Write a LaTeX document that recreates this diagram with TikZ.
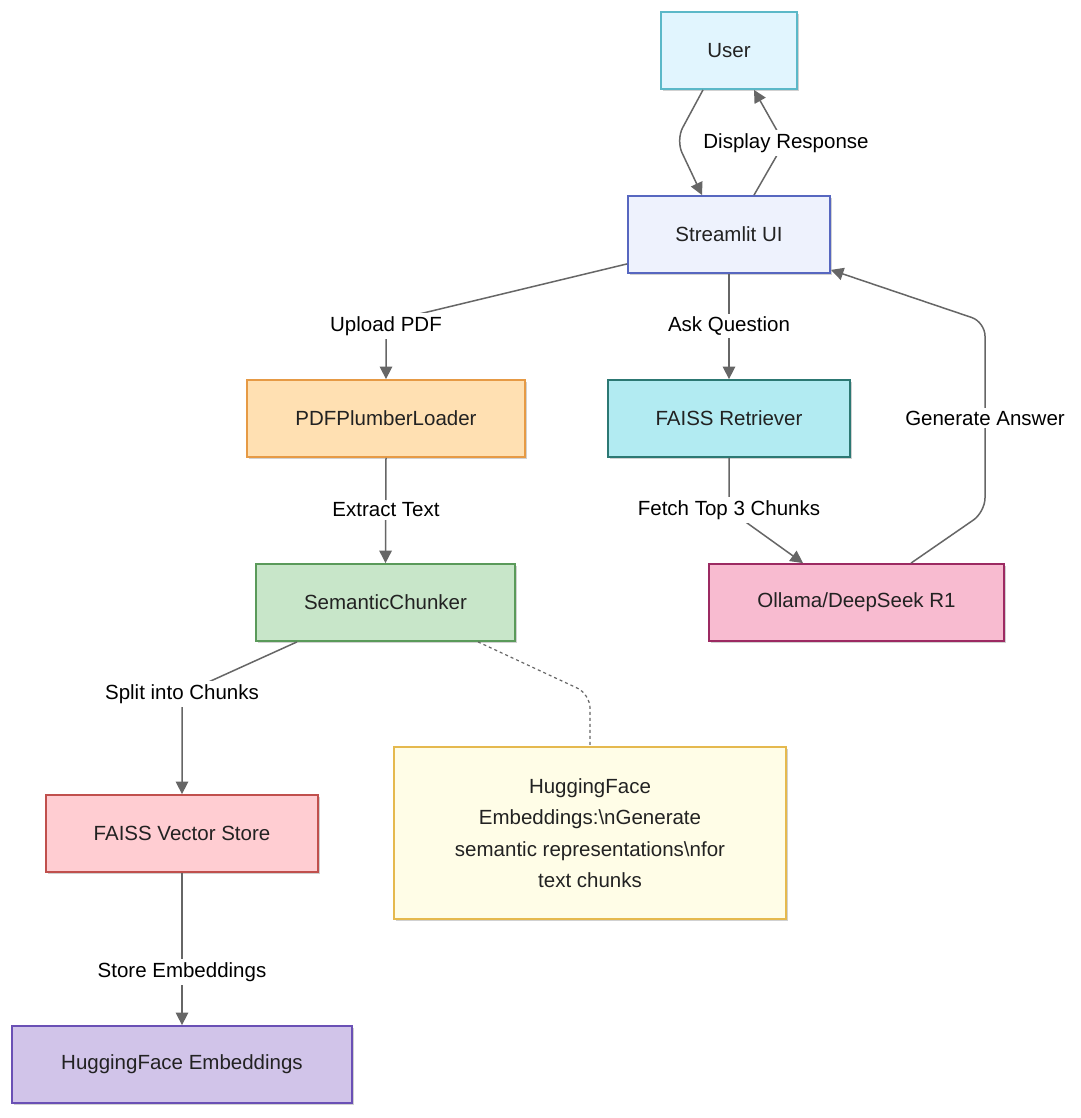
\documentclass[tikz,border=0pt]{standalone}
\usepackage{fontspec}
\setmainfont{Liberation Sans}
\usetikzlibrary{arrows.meta,shadows}
\definecolor{edgec}{HTML}{666666}
\definecolor{txt}{HTML}{222222}
\definecolor{userf}{HTML}{E1F5FE}\definecolor{userd}{HTML}{5BB8C8}
\definecolor{uif}{HTML}{EEF2FD}\definecolor{uid}{HTML}{5767C0}
\definecolor{pdff}{HTML}{FFE0B2}\definecolor{pdfd}{HTML}{E69A45}
\definecolor{retf}{HTML}{B2EBF2}\definecolor{retd}{HTML}{2C7873}
\definecolor{chf}{HTML}{C8E6C9}\definecolor{chd}{HTML}{5A9A5A}
\definecolor{olf}{HTML}{F8BBD0}\definecolor{old}{HTML}{9C2A62}
\definecolor{vsf}{HTML}{FFCDD2}\definecolor{vsd}{HTML}{C0504D}
\definecolor{notef}{HTML}{FFFDE7}\definecolor{noted}{HTML}{E5B94E}
\definecolor{hff}{HTML}{D1C4E9}\definecolor{hfd}{HTML}{6A50B5}
\begin{document}
\begin{tikzpicture}[x=1pt,y=-1pt,
  font=\fontsize{20.5}{31.5}\selectfont, text=txt,
  box/.style={draw, line width=1.8pt, minimum height=77pt, align=center, inner sep=0pt,
    drop shadow={shadow xshift=2pt, shadow yshift=-2pt, opacity=0.18, fill=black}},
  conn/.style={draw=edgec, line width=1.5pt, rounded corners=14pt},
  arr/.style={conn, -{Triangle[length=12.5pt,width=12.5pt]}},
  lbl/.style={fill=white, inner sep=3pt, text=black}]
\useasboundingbox (0,0) rectangle (1080,1118);
\fill[white] (0,0) rectangle (1080,1118);
% nodes
\node[box, fill=userf, draw=userd, minimum width=136pt] (user) at (729,50.5) {User};
\node[box, fill=uif, draw=uid, minimum width=202pt] (ui) at (729,234.5) {Streamlit UI};
\node[box, fill=pdff, draw=pdfd, minimum width=278pt] (pdf) at (386,418.5) {PDFPlumberLoader};
\node[box, fill=retf, draw=retd, minimum width=242pt] (ret) at (729,418.5) {FAISS Retriever};
\node[box, fill=chf, draw=chd, minimum width=259pt] (chunk) at (385.5,602.5) {SemanticChunker};
\node[box, fill=olf, draw=old, minimum width=295pt] (olla) at (856.5,602.5) {Ollama/DeepSeek R1};
\node[box, fill=vsf, draw=vsd, minimum width=272pt] (vs) at (182,833.5) {FAISS Vector Store};
\node[box, fill=notef, draw=noted, minimum width=392pt, minimum height=172pt] (note) at (590,833) {HuggingFace\\Embeddings:\textbackslash nGenerate\\semantic representations\textbackslash nfor\\text chunks};
\node[box, fill=hff, draw=hfd, minimum width=340pt] (hf) at (182,1064.5) {HuggingFace Embeddings};
% bend coordinates
\coordinate (b1) at (676,140);
\coordinate (b2) at (784,143);
\coordinate (b3) at (386,322);
\coordinate (b4) at (729,510);
\coordinate (b5) at (985,512);
\coordinate (b6) at (985,322);
\coordinate (b7) at (182,694);
\coordinate (b8) at (590,694);
% connectors
\draw[arr] ([xshift=-26pt]user.south) -- (b1) -- ([xshift=-27pt]ui.north);
\draw[arr] ([xshift=25pt]ui.north) -- (b2) -- ([xshift=25pt]user.south);
\node[lbl] (lDisp) at (786,143) {Display Response};
\draw[arr] ([yshift=10pt]ui.south west) -- (b3) -- (pdf.north);
\node[lbl] (lUp) at (386,326) {Upload PDF};
\draw[arr] (ui.south) -- (ret.north);
\node[lbl] (lAsk) at (729,326) {Ask Question};
\draw[arr] (ret.south) -- (b4) -- ([xshift=-53.5pt]olla.north);
\node[lbl] (lFetch) at (729,510) {Fetch Top 3 Chunks};
\draw[arr] ([xshift=54.5pt]olla.north) -- (b5) -- (b6) -- ([yshift=4pt]ui.south east);
\node[lbl] (lGen) at (985,418) {Generate Answer};
\draw[arr] (pdf.south) -- (chunk.north);
\node[lbl] (lExt) at (386,510) {Extract Text};
\draw[arr] ([xshift=-88.5pt]chunk.south) -- (b7) -- (vs.north);
\node[lbl] (lSplit) at (182,694) {Split into Chunks};
\draw[conn, dash pattern=on 3pt off 3pt, line width=1.2pt] ([xshift=92.5pt]chunk.south) -- (b8) -- (note.north);
\draw[arr] (vs.south) -- (hf.north);
\node[lbl] (lStore) at (182,972) {Store Embeddings};
\end{tikzpicture}
\end{document}
